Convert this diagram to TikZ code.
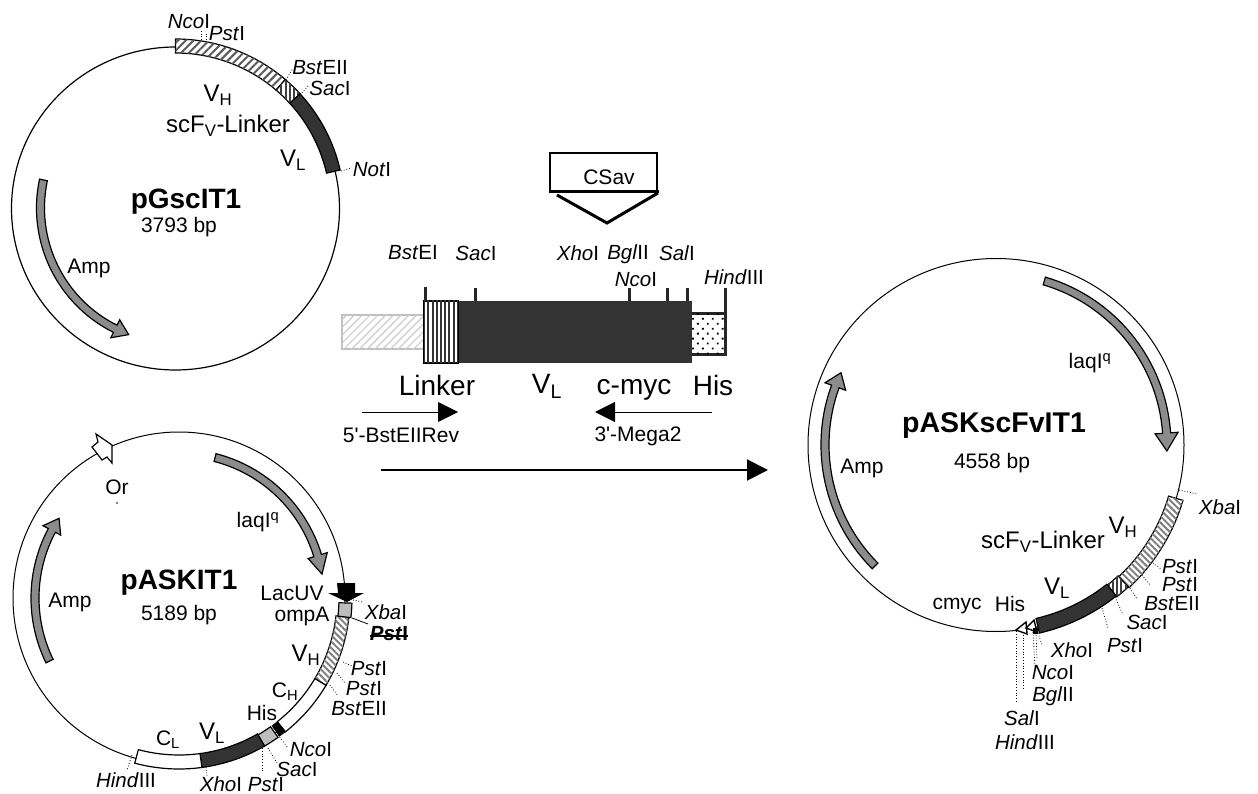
\documentclass[tikz,border=0pt]{standalone}
\usepackage{fontspec}
\setmainfont{Liberation Sans}
\usetikzlibrary{arrows.meta, patterns.meta}

\definecolor{darkband}{HTML}{333333}
\definecolor{genegray}{HTML}{8C8C8C}
\definecolor{boxgray}{HTML}{BDBDBD}

% band along a circle: style, inner radius, outer radius, from angle, to angle
\newcommand{\arcband}[5]{%
  \draw[#1] (#4:#2) arc[start angle=#4, end angle=#5, radius=#2*1pt]
    -- (#5:#3) arc[start angle=#5, end angle=#4, radius=#3*1pt] -- cycle;}
% gene arrow: radius, half width, half head width, from angle, head base, tip
\newcommand{\genearrow}[6]{%
  \draw[gene] (#4:#1+#2) arc[start angle=#4, end angle=#5, radius=(#1+#2)*1pt]
    -- (#5:#1+#3) -- (#6:#1) -- (#5:#1-#3) -- (#5:#1-#2)
    arc[start angle=#5, end angle=#4, radius=(#1-#2)*1pt] -- cycle;}
% dotted tick of a restriction site
\newcommand{\sitetick}[3]{%
  \coordinate (#1a) at (#2);
  \coordinate (#1b) at (#3);
  \draw[tick] (#1a) -- (#1b);}

\begin{document}
\begin{tikzpicture}[
    x=1pt, y=1pt, yscale=-1,
    every node/.style={inner sep=0pt, anchor=center},
    plasmid/.style 2 args={shift={(#1,#2)}, yscale=-1},
    ring/.style={draw, line width=1.2pt},
    band/.style={draw, line width=1.2pt, fill=white},
    darkseg/.style={draw, line width=1.2pt, fill=darkband},
    hatchA/.style={band, postaction={pattern={Lines[angle=45,distance=5.5pt,line width=2pt]}, pattern color=black!65}},
    hatchB/.style={band, postaction={pattern={Lines[angle=-45,distance=4.5pt,line width=2pt]}, pattern color=black!50}},
    stripes/.style={band, postaction={pattern={Lines[angle=90,distance=4.2pt,line width=2pt]}, pattern color=black!75}},
    gene/.style={draw, line width=1.2pt, fill=genegray},
    tick/.style={dotted, line width=0.8pt},
    platitle/.style={font=\fontsize{28}{28}\selectfont\bfseries},
    bpsize/.style={font=\fontsize{21}{21}\selectfont},
    lab/.style={font=\fontsize{21}{21}\selectfont},
    biglab/.style={font=\fontsize{24}{24}\selectfont},
    hugelab/.style={font=\fontsize{28}{28}\selectfont},
    site/.style={font=\fontsize{20.5}{20.5}\selectfont},
    primer/.style={line width=1pt, -{Triangle[length=20pt,width=20pt]}},
    wall/.style={line width=3pt, draw=black!85}
]
\useasboundingbox (0,0) rectangle (1258,794);

% pGscIT1
\begin{scope}[plasmid={175.5}{208.5}]
  \draw[ring] (0,0) ellipse[x radius=164pt, y radius=161.5pt];
\end{scope}
\begin{scope}[plasmid={175.5}{208}]
  \arcband{hatchA}{155}{169}{90}{49.5}
  \arcband{stripes}{155}{169}{49.5}{42.5}
  \arcband{darkseg}{155}{169}{42.5}{13}
  \genearrow{135}{4}{10}{168}{243.5}{249.7}
\end{scope}
\node[platitle] (pgsc) at (186,202) {pGscIT1};
\node[bpsize] (pgscbp) at (179,227) {3793 bp};
\node[lab] (pgscamp) at (89,268) {Amp};
\node[biglab] (pgscvh) at (218,95) {V\textsubscript{H}};
\node[biglab] (pgsclink) at (228,126) {scF\textsubscript{V}-Linker};
\node[biglab] (pgscvl) at (293,160) {V\textsubscript{L}};
\node[site] (pgscnco) at (189,22) {\textit{Nco}I};
\node[site] (pgscpst) at (227,34) {\textit{Pst}I};
\node[site] (pgscbst) at (320,68) {\textit{Bst}EII};
\node[site] (pgscsac) at (330,88) {\textit{Sac}I};
\node[site] (pgscnot) at (372,170) {\textit{Not}I};
\sitetick{gnco}{201,40}{201,30}
\sitetick{gpst}{206,40}{206,32}
\sitetick{gbst}{286,80}{293,68}
\sitetick{gsac}{302,93}{308,86}
\sitetick{gnot}{341,171}{352,168}

% pASKIT1
\begin{scope}[plasmid={179}{598}]
  \draw[ring, line width=1pt] (0,0) circle[radius=166pt];
  \arcband{hatchB}{158}{171}{-6.5}{-30.7}
  \arcband{band}{158}{171}{-30.7}{-51.5}
  \arcband{draw, fill=black}{158}{171}{-51.5}{-54}
  \arcband{draw, line width=1.2pt, fill=boxgray}{158}{171}{-54.6}{-60}
  \arcband{darkseg}{157}{171}{-60}{-82.3}
  \arcband{band}{157}{171}{-82.3}{-105}
  \arcband{draw, line width=1.2pt, fill=boxgray}{160}{173}{-1.7}{-6.5}
  \genearrow{145}{4}{10}{75.6}{17}{9.5}
  \genearrow{144}{4}{10}{206}{152}{146.4}
\end{scope}
\draw[line width=1.2pt, fill=white] (96,434) -- (112,445) -- (112,463) -- (107,457)
  -- (102,460) -- (92,447) -- (98,442) -- cycle;
\fill (337,583) -- (355,583) -- (355,593) -- (364,593) -- (347,602) -- (328,593) -- (338,593) -- cycle;
\fill (117,503) circle[radius=0.8pt];
\node[platitle] (pask) at (179,583) {pASKIT1};
\node[bpsize] (paskbp) at (179,615) {5189 bp};
\node[lab] (paskamp) at (70,602) {Amp};
\node[lab] (paskor) at (117,487) {Or};
\node[lab] (pasklaq) at (258,522) {laqI\textsuperscript{q}};
\node[lab] (pasklac) at (292,593) {LacUV};
\node[lab] (paskomp) at (302,616) {ompA};
\node[biglab] (paskvh) at (306,655) {V\textsubscript{H}};
\node[lab] (paskch) at (285,692) {C\textsubscript{H}};
\node[lab] (paskhis) at (262,713) {His};
\node[biglab] (paskvl) at (212,733) {V\textsubscript{L}};
\node[lab] (paskcl) at (168,740) {C\textsubscript{L}};
\node[site] (paskxba) at (386,612) {\textit{Xba}I};
\node[site] (paskcut) at (389,634) {\bfseries\textit{Pst}I};
\node[site] (paskpsta) at (369,669) {\textit{Pst}I};
\node[site] (paskpstb) at (364,689) {\textit{Pst}I};
\node[site] (paskbst) at (359,709) {\textit{Bst}EII};
\node[site] (pasknco) at (311,750) {\textit{Nco}I};
\node[site] (psaksac) at (297,769.5) {\textit{Sac}I};
\node[site] (paskpstc) at (266,785) {\textit{Pst}I};
\node[site] (paskxho) at (221,784) {\textit{Xho}I};
\node[site] (paskhind) at (126,780) {\textit{Hind}III};
\coordinate (cutL) at (370,636);
\coordinate (cutR) at (408,636);
\draw[line width=1.5pt] (cutL) -- (cutR);
\coordinate (cutA) at (352,618);
\coordinate (cutB) at (368,624);
\draw[line width=0.8pt] (cutA) -- (cutB);
\sitetick{axba}{353,600}{363,602}
\sitetick{apsta}{343,662}{352,666}
\sitetick{apstb}{337,673}{345,683}
\sitetick{abst}{330,685}{338,696}
\sitetick{anco}{278,735}{288,748}
\sitetick{asac}{268,748}{277,763}
\sitetick{apstc}{262,748}{262,773}
\sitetick{axho}{206,767}{207,776}
\sitetick{ahind}{132,755}{127,770}

% insert in the middle
\draw[draw=black!25, line width=1.5pt, postaction={pattern={Lines[angle=45,distance=5.5pt,line width=1.2pt]}, pattern color=black!20}]
  (342,315) rectangle (424,349);
\fill[darkband] (457,301) rectangle (692,363);
\draw[line width=2pt, fill=white, postaction={pattern={Lines[angle=90,distance=4.2pt,line width=2pt]}, pattern color=black!80}]
  (424,301) rectangle (458,363);
\draw[wall, postaction={pattern={Dots[radius=1.3pt,distance=7pt,angle=45]}}]
  (692,313) -- (725,313) -- (725,354) -- (692,354);
\draw[wall] (425,287) -- (425,301);
\draw[wall] (475,288) -- (475,301);
\draw[wall] (629,288) -- (629,301);
\draw[wall] (667,288) -- (667,301);
\draw[wall] (687,288) -- (687,301);
\draw[wall] (725,288) -- (725,313);
\draw[line width=2.2pt] (550,153) rectangle (657,192);
\draw[line width=3pt, line join=miter] (557,195) -- (607,223) -- (658,193);
\draw[line width=3pt] (550,192) -- (659,192);
\node[lab] (csav) at (609,177) {CSav};
\node[site] (inbst) at (413,253) {\textit{Bst}EI};
\node[site] (insac) at (476,253) {\textit{Sac}I};
\node[site] (inxho) at (578,253) {\textit{Xho}I};
\node[site] (inbgl) at (628,254) {\textit{Bgl}II};
\node[site] (insal) at (677,253) {\textit{Sal}I};
\node[site] (innco) at (636,280) {\textit{Nco}I};
\node[site] (inhind) at (734,277) {\textit{Hind}III};
\node[hugelab] (inlink) at (437,385) {Linker};
\node[hugelab] (invl) at (547,386) {V\textsubscript{L}};
\node[hugelab] (inmyc) at (634,390) {c-myc};
\node[hugelab] (inhis) at (713,385) {His};
\coordinate (fwdA) at (362,412);
\coordinate (fwdB) at (458,412);
\coordinate (revA) at (712,412);
\coordinate (revB) at (595,412);
\coordinate (mainA) at (381,470);
\coordinate (mainB) at (768,470);
\draw[primer] (fwdA) -- (fwdB);
\draw[primer] (revA) -- (revB);
\draw[line width=2pt, -{Triangle[length=21pt,width=21pt]}] (mainA) -- (mainB);
\node[lab] (fwdlab) at (401,435) {5\textquotesingle-BstEIIRev};
\node[lab] (revlab) at (638,436) {3\textquotesingle-Mega2};

% pASKscFvIT1
\begin{scope}[plasmid={996}{445}]
  \draw[ring, line width=1pt] (0,0) ellipse[x radius=188pt, y radius=186.5pt];
  \arcband{hatchB}{180}{195}{-16.5}{-47}
  \arcband{stripes}{179}{194}{-47}{-51.5}
  \arcband{darkseg}{178}{193}{-51.5}{-77}
  \genearrow{171}{4}{11.5}{73.6}{4}{-2}
  \genearrow{171}{4}{11}{225}{160}{155}
\end{scope}
\draw[line width=1.4pt, fill=white] (1016,630) -- (1026,622) -- (1027,634) -- cycle;
\draw[line width=1.4pt, fill=white] (1026,628) -- (1034,620) -- (1037,632) -- cycle;
\fill (1033,628) rectangle (1038,634);
\node[platitle, font=\fontsize{28.5}{28.5}\selectfont\bfseries] (scfv) at (994,426) {pASKscFvIT1};
\node[bpsize] (scfvbp) at (992,463) {4558 bp};
\node[lab] (scfvamp) at (862,468) {Amp};
\node[lab] (scfvlaq) at (1090,363) {laqI\textsuperscript{q}};
\node[biglab] (scfvvh) at (1123,527) {V\textsubscript{H}};
\node[biglab] (scfvlink) at (1043,542) {scF\textsubscript{V}-Linker};
\node[biglab] (scfvvl) at (1057,588) {V\textsubscript{L}};
\node[lab] (scfvmyc) at (957,606) {cmyc};
\node[lab] (scfvhis) at (1010,604) {His};
\node[site] (scfvxba) at (1220,507) {\textit{Xba}I};
\node[site] (scfvpsta) at (1180,567) {\textit{Pst}I};
\node[site] (scfvpstb) at (1180,585) {\textit{Pst}I};
\node[site] (scfvbst) at (1172,604) {\textit{Bst}EII};
\node[site] (scfvsac) at (1147,622) {\textit{Sac}I};
\node[site] (scfvpstc) at (1125,646) {\textit{Pst}I};
\node[site] (scfvxho) at (1072,650) {\textit{Xho}I};
\node[site] (scfvnco) at (1053,673) {\textit{Nco}I};
\node[site] (scfvbgl) at (1053,696) {\textit{Bgl}II};
\node[site] (scfvsal) at (1022,718) {\textit{Sal}I};
\node[site] (scfvhind) at (1025,742) {\textit{Hind}III};
\sitetick{sxba}{1179,490}{1197,494}
\sitetick{spsta}{1153,563}{1161,569}
\sitetick{spstb}{1142,575}{1150,585}
\sitetick{sbst}{1130,588}{1137,599}
\sitetick{ssac}{1115,597}{1123,615}
\sitetick{spstc}{1102,608}{1108,628}
\sitetick{sxho}{1038,633}{1042,645}
\sitetick{snco}{1033,632}{1035,667}
\sitetick{sncob}{1036,632}{1037,660}
\sitetick{sbgl}{1023,632}{1023,690}
\sitetick{ssal}{1016,631}{1016,703}
\end{tikzpicture}
\end{document}
